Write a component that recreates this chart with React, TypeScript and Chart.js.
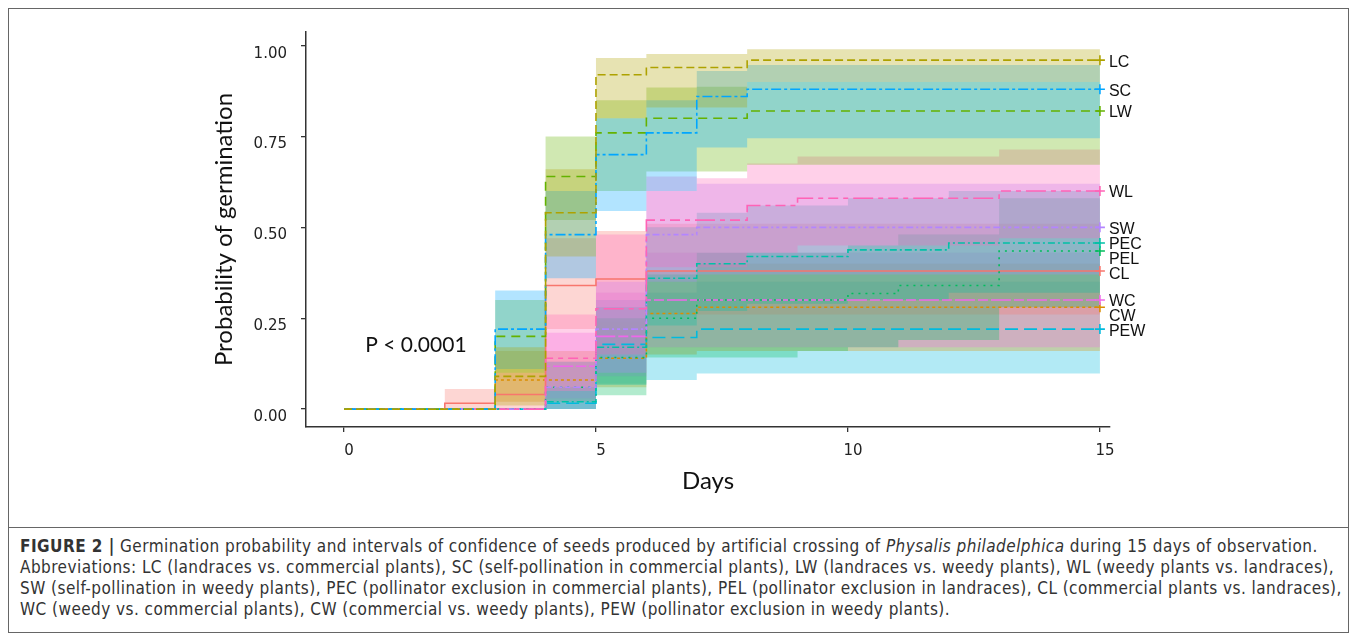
import React, { useEffect, useRef } from "react";
import { Chart, registerables } from "chart.js";
Chart.register(...registerables);

// ---- data (Kaplan–Meier estimates, days 0..15) ----
const days = [0, 1, 2, 3, 4, 5, 6, 7, 8, 9, 10, 11, 12, 13, 14, 15];
const xTicks = [0, 5, 10, 15];
const yTicks = [0, 0.25, 0.5, 0.75, 1];
const groups = ["LC", "SC", "LW", "WL", "SW", "PEC", "PEL", "CL", "WC", "CW", "PEW"];

const LC_est = [0, 0, 0, 0.09, 0.54, 0.92, 0.94, 0.94, 0.96, 0.96, 0.96, 0.96, 0.96, 0.96, 0.96, 0.96];
const LC_lo = [0, 0, 0, 0.01, 0.42, 0.8, 0.83, 0.83, 0.9, 0.9, 0.9, 0.9, 0.9, 0.9, 0.9, 0.9];
const LC_hi = [0, 0, 0, 0.17, 0.66, 0.966, 0.977, 0.977, 0.99, 0.99, 0.99, 0.99, 0.99, 0.99, 0.99, 0.99];

const SC_est = [0, 0, 0, 0.22, 0.48, 0.7, 0.76, 0.86, 0.88, 0.88, 0.88, 0.88, 0.88, 0.88, 0.88, 0.88];
const SC_lo = [0, 0, 0, 0.11, 0.36, 0.545, 0.6, 0.72, 0.745, 0.745, 0.745, 0.745, 0.745, 0.745, 0.745, 0.745];
const SC_hi = [0, 0, 0, 0.326, 0.6, 0.8, 0.85, 0.93, 0.947, 0.947, 0.947, 0.947, 0.947, 0.947, 0.947, 0.947];

const LW_est = [0, 0, 0, 0.2, 0.64, 0.76, 0.8, 0.8, 0.82, 0.82, 0.82, 0.82, 0.82, 0.82, 0.82, 0.82];
const LW_lo = [0, 0, 0, 0.1, 0.52, 0.6, 0.654, 0.654, 0.672, 0.672, 0.672, 0.672, 0.672, 0.672, 0.672, 0.672];
const LW_hi = [0, 0, 0, 0.3, 0.75, 0.85, 0.885, 0.887, 0.9, 0.9, 0.9, 0.9, 0.9, 0.9, 0.9, 0.9];

const WL_est = [0, 0, 0, 0, 0.14, 0.276, 0.52, 0.52, 0.56, 0.58, 0.58, 0.58, 0.58, 0.6, 0.6, 0.6];
const WL_lo = [0, 0, 0, 0, 0.05, 0.15, 0.39, 0.39, 0.43, 0.45, 0.45, 0.45, 0.45, 0.47, 0.47, 0.47];
const WL_hi = [0, 0, 0, 0, 0.26, 0.48, 0.64, 0.635, 0.676, 0.695, 0.695, 0.695, 0.695, 0.714, 0.714, 0.714];

const SW_est = [0, 0, 0, 0, 0.06, 0.22, 0.48, 0.5, 0.5, 0.5, 0.5, 0.5, 0.5, 0.5, 0.5, 0.5];
const SW_lo = [0, 0, 0, 0, 0, 0.1, 0.35, 0.37, 0.37, 0.37, 0.37, 0.37, 0.37, 0.37, 0.37, 0.37];
const SW_hi = [0, 0, 0, 0, 0.13, 0.35, 0.6, 0.62, 0.62, 0.62, 0.62, 0.62, 0.62, 0.62, 0.62, 0.62];

const PEC_est = [0, 0, 0, 0, 0.02, 0.17, 0.36, 0.4, 0.42, 0.42, 0.438, 0.438, 0.457, 0.457, 0.457, 0.457];
const PEC_lo = [0, 0, 0, 0, 0, 0.066, 0.23, 0.27, 0.29, 0.29, 0.3, 0.3, 0.32, 0.32, 0.32, 0.32];
const PEC_hi = [0, 0, 0, 0, 0.06, 0.28, 0.5, 0.54, 0.56, 0.56, 0.58, 0.58, 0.6, 0.6, 0.6, 0.6];

const PEL_est = [0, 0, 0, 0, 0.06, 0.142, 0.25, 0.3, 0.3, 0.3, 0.318, 0.34, 0.34, 0.435, 0.435, 0.435];
const PEL_lo = [0, 0, 0, 0, 0, 0.038, 0.142, 0.142, 0.142, 0.16, 0.17, 0.19, 0.19, 0.28, 0.28, 0.28];
const PEL_hi = [0, 0, 0, 0, 0.13, 0.25, 0.37, 0.43, 0.43, 0.43, 0.45, 0.48, 0.48, 0.58, 0.58, 0.58];

const CL_est = [0, 0, 0.016, 0.04, 0.34, 0.358, 0.38, 0.38, 0.38, 0.38, 0.38, 0.38, 0.38, 0.38, 0.38, 0.38];
const CL_lo = [0, 0, 0, 0, 0.22, 0.24, 0.26, 0.26, 0.26, 0.26, 0.26, 0.26, 0.26, 0.26, 0.26, 0.26];
const CL_hi = [0, 0, 0.055, 0.1, 0.47, 0.49, 0.51, 0.51, 0.51, 0.51, 0.51, 0.51, 0.51, 0.51, 0.51, 0.51];

const WC_est = [0, 0, 0, 0, 0.118, 0.2, 0.3, 0.3, 0.3, 0.3, 0.3, 0.3, 0.3, 0.3, 0.3, 0.3];
const WC_lo = [0, 0, 0, 0, 0.03, 0.09, 0.17, 0.17, 0.17, 0.17, 0.17, 0.17, 0.17, 0.17, 0.17, 0.17];
const WC_hi = [0, 0, 0, 0, 0.21, 0.32, 0.43, 0.43, 0.43, 0.43, 0.43, 0.43, 0.43, 0.43, 0.43, 0.43];

const CW_est = [0, 0, 0, 0.08, 0.08, 0.14, 0.263, 0.28, 0.28, 0.28, 0.28, 0.28, 0.28, 0.28, 0.28, 0.28];
const CW_lo = [0, 0, 0, 0.02, 0.02, 0.06, 0.15, 0.16, 0.16, 0.16, 0.16, 0.16, 0.16, 0.16, 0.16, 0.16];
const CW_hi = [0, 0, 0, 0.16, 0.16, 0.24, 0.38, 0.4, 0.4, 0.4, 0.4, 0.4, 0.4, 0.4, 0.4, 0.4];

const PEW_est = [0, 0, 0, 0, 0.016, 0.178, 0.197, 0.22, 0.22, 0.22, 0.22, 0.22, 0.22, 0.22, 0.22, 0.22];
const PEW_lo = [0, 0, 0, 0, 0, 0.07, 0.08, 0.098, 0.098, 0.098, 0.098, 0.098, 0.098, 0.098, 0.098, 0.098];
const PEW_hi = [0, 0, 0, 0, 0.05, 0.3, 0.32, 0.35, 0.35, 0.35, 0.35, 0.35, 0.35, 0.35, 0.35, 0.35];

const pValueText = "P < 0.0001";
const captionLines = [
  "Abbreviations: LC (landraces vs. commercial plants), SC (self-pollination in commercial plants), LW (landraces vs. weedy plants), WL (weedy plants vs. landraces),",
  "SW (self-pollination in weedy plants), PEC (pollinator exclusion in commercial plants), PEL (pollinator exclusion in landraces), CL (commercial plants vs. landraces),",
  "WC (weedy vs. commercial plants), CW (commercial vs. weedy plants), PEW (pollinator exclusion in weedy plants).",
];

const series: Record<string, { est: number[]; lo: number[]; hi: number[] }> = {
  LC: { est: LC_est, lo: LC_lo, hi: LC_hi },
  SC: { est: SC_est, lo: SC_lo, hi: SC_hi },
  LW: { est: LW_est, lo: LW_lo, hi: LW_hi },
  WL: { est: WL_est, lo: WL_lo, hi: WL_hi },
  SW: { est: SW_est, lo: SW_lo, hi: SW_hi },
  PEC: { est: PEC_est, lo: PEC_lo, hi: PEC_hi },
  PEL: { est: PEL_est, lo: PEL_lo, hi: PEL_hi },
  CL: { est: CL_est, lo: CL_lo, hi: CL_hi },
  WC: { est: WC_est, lo: WC_lo, hi: WC_hi },
  CW: { est: CW_est, lo: CW_lo, hi: CW_hi },
  PEW: { est: PEW_est, lo: PEW_lo, hi: PEW_hi },
};

// ---- styles ----
const colors: Record<string, string> = {
  CL: "#F8766D",
  CW: "#DB8E00",
  LC: "#AEA200",
  LW: "#64B200",
  PEL: "#00BD5C",
  PEC: "#00C1A7",
  PEW: "#00BADE",
  SC: "#00A6FF",
  SW: "#B385FF",
  WC: "#EF67EB",
  WL: "#FF63B6",
};
const dashes: Record<string, number[]> = {
  CL: [],
  CW: [3, 3],
  LC: [8, 4],
  LW: [9, 6],
  PEC: [7, 3, 2, 3],
  PEL: [2, 5],
  PEW: [13, 6],
  SC: [3, 3, 10, 3],
  SW: [2, 3, 3, 3, 5, 3, 7, 3],
  WC: [20, 3, 10, 3],
  WL: [20, 5, 5, 5, 10, 5, 5, 5],
};

function rgba(hex: string, a: number) {
  const n = parseInt(hex.slice(1), 16);
  return `rgba(${(n >> 16) & 255},${(n >> 8) & 255},${n & 255},${a})`;
}

const pts = (vals: number[]) => days.map((d, i) => ({ x: d, y: vals[i] }));

const labelsPlugin = {
  id: "kmLabels",
  afterDatasetsDraw(chart: any) {
    const { ctx } = chart;
    const x = chart.scales.x;
    const y = chart.scales.y;
    ctx.save();
    ctx.fillStyle = "#111";
    ctx.textBaseline = "middle";
    ctx.textAlign = "left";
    ctx.font = "21px Lato";
    ctx.fillText(pValueText, x.getPixelForValue(0.42), y.getPixelForValue(0.175));

    ctx.font = "16px 'Liberation Sans', Arial, sans-serif";
    const lastDay = days[days.length - 1];
    const items = groups
      .map((g) => ({ g, py: y.getPixelForValue(series[g].est[series[g].est.length - 1]) }))
      .sort((a, b) => a.py - b.py);
    let prev = -1e9;
    for (const it of items) {
      const py = Math.max(it.py, prev + 15);
      prev = py;
      ctx.fillText(it.g, x.getPixelForValue(lastDay) + 9, py + 2);
    }
    ctx.restore();
  },
};

export default function App() {
  const ref = useRef<HTMLCanvasElement>(null);
  useEffect(() => {
    const datasets: any[] = [];
    // confidence bands
    groups.forEach((g) => {
      const s = series[g];
      datasets.push({
        label: g + " lower",
        data: pts(s.lo),
        stepped: "before",
        borderColor: "rgba(0,0,0,0)",
        borderWidth: 1,
        pointRadius: 0,
        fill: false,
        order: 2,
      });
      datasets.push({
        label: g + " upper",
        data: pts(s.hi),
        stepped: "before",
        borderColor: "rgba(0,0,0,0)",
        borderWidth: 1,
        pointRadius: 0,
        backgroundColor: rgba(colors[g], 0.3),
        fill: "-1",
        order: 2,
      });
    });
    // survival step lines
    groups.forEach((g) => {
      const s = series[g];
      datasets.push({
        label: g,
        data: pts(s.est),
        stepped: "before",
        borderColor: colors[g],
        borderWidth: 1.6,
        borderDash: dashes[g],
        fill: false,
        pointStyle: "cross",
        pointRadius: days.map((_, i) => (i === days.length - 1 ? 5 : 0)),
        pointBorderWidth: 1.6,
        pointBorderColor: colors[g],
        order: 1,
      });
    });

    const chart = new Chart(ref.current!, {
      type: "line",
      data: { datasets },
      plugins: [labelsPlugin],
      options: {
        animation: false,
        responsive: false,
        layout: { padding: { left: 0, right: 238, top: 21, bottom: 0 } },
        plugins: {
          legend: { display: false },
          tooltip: { enabled: false },
          filler: { drawTime: "beforeDatasetsDraw" },
        },
        scales: {
          x: {
            type: "linear",
            min: -0.754,
            max: 15.2,
            afterBuildTicks: (sc: any) => {
              sc.ticks = xTicks.map((v) => ({ value: v }));
            },
            afterFit: (sc: any) => {
              sc.height = 100;
            },
            grid: { drawOnChartArea: false, drawTicks: true, tickLength: 5, color: "#333", lineWidth: 1.3 },
            border: { display: true, color: "#333", width: 1.5 },
            ticks: {
              color: "#222",
              font: { family: "'DejaVu Sans'", size: 15 },
              padding: 10,
              labelOffset: 5,
              maxRotation: 0,
              callback: (v: any) => String(v),
            },
            title: {
              display: true,
              text: "Days",
              color: "#111",
              font: { family: "Lato", size: 24 },
              padding: { top: 0, bottom: 31 },
            },
          },
          y: {
            type: "linear",
            min: -0.0493,
            max: 1.0375,
            afterBuildTicks: (sc: any) => {
              sc.ticks = yTicks.map((v) => ({ value: v }));
            },
            afterFit: (sc: any) => {
              sc.width = 297;
            },
            grid: { drawOnChartArea: false, drawTicks: true, tickLength: 5, color: "#333", lineWidth: 1.3 },
            border: { display: true, color: "#333", width: 1.5 },
            ticks: {
              color: "#222",
              font: { family: "'DejaVu Sans'", size: 15 },
              padding: 14,
              labelOffset: 8,
              callback: (v: any) => Number(v).toFixed(2),
            },
            title: {
              display: true,
              text: "Probability of germination",
              color: "#111",
              font: { family: "Lato", size: 24 },
              padding: { top: 201, bottom: 0 },
            },
          },
        },
      } as any,
    });
    return () => chart.destroy();
  }, []);

  return (
    <div
      style={{
        width: 1339,
        height: 623,
        border: "1px solid #666",
        fontFamily: "'DejaVu Sans Condensed', 'Liberation Sans', sans-serif",
        color: "#333",
      }}
    >
      <canvas ref={ref} width={1339} height={518} style={{ display: "block" }} />
      <div
        style={{
          borderTop: "1px solid #666",
          height: 104,
          boxSizing: "border-box",
          paddingTop: 8,
          paddingLeft: 11,
          fontSize: 17,
          letterSpacing: "0.45px",
          lineHeight: "21px",
          whiteSpace: "nowrap",
          overflow: "hidden",
        }}
      >
        <div>
          <b>FIGURE 2 |</b> Germination probability and intervals of confidence of seeds produced by artificial crossing of{" "}
          <i>Physalis philadelphica</i> during 15 days of observation.
        </div>
        {captionLines.map((l, i) => (
          <div key={i}>{l}</div>
        ))}
      </div>
    </div>
  );
}
